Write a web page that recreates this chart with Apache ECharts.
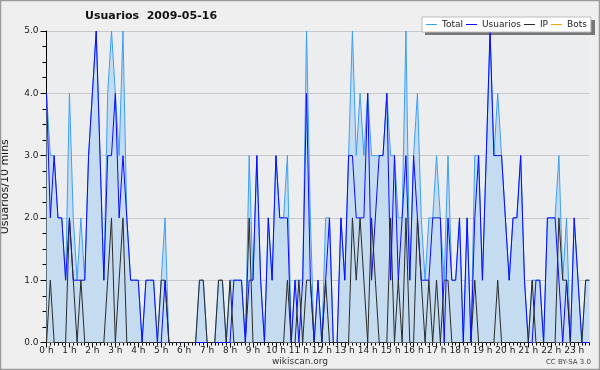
<!DOCTYPE html>
<html><head><meta charset="utf-8">
<script src="https://cdn.jsdelivr.net/npm/echarts@6/dist/echarts.min.js"></script>
<style>html,body{margin:0;padding:0;background:#efefef}#c{width:600px;height:370px}</style>
</head><body><div id="c"></div>
<script>
// 10-minute slots, 143 points starting 00:00
const slots = [];
for (let i = 0; i < 143; i++) { const h = Math.floor(i / 6), m = (i % 6) * 10; slots.push((h < 10 ? '0' : '') + h + ':' + (m < 10 ? '0' : '') + m); }
const hourLabels = ['0 h','1 h','2 h','3 h','4 h','5 h','6 h','7 h','8 h','9 h','10 h','11 h','12 h','13 h','14 h','15 h','16 h','17 h','18 h','19 h','20 h','21 h','22 h','23 h'];
const yTicks = ['0.0','1.0','2.0','3.0','4.0','5.0'];

const total = [4,3,3,2,2,1,4,2,1,2,1,3,4,5,3,1,4,5,4,3,5,2,1,1,1,0,1,1,1,0,1,2,0,0,0,0,0,0,0,0,1,1,0,0,0,1,1,0,1,1,1,1,0,3,1,3,1,0,2,1,3,2,2,3,0,1,1,1,5,2,0,1,0,2,2,0,0,2,1,3,5,3,4,3,4,3,3,3,3,4,3,3,2,2,5,1,3,4,2,1,2,2,3,2,1,3,1,1,2,0,2,0,3,3,1,3,5,3,4,3,2,1,2,2,3,1,0,1,1,1,0,2,2,2,3,1,2,0,2,1,0,1,1];
const usuarios = [4,2,3,2,2,1,2,1,1,1,1,3,4,5,3,1,3,3,4,2,3,2,1,1,1,0,1,1,1,0,0,1,0,0,0,0,0,0,0,0,0,0,0,0,0,0,0,0,0,1,1,1,0,1,1,3,1,0,2,1,3,2,2,2,0,1,0,1,4,1,0,1,0,1,2,0,0,2,1,3,3,2,2,2,4,1,2,3,3,4,1,3,1,2,3,1,3,2,1,1,1,2,2,2,0,2,1,1,2,0,2,0,2,3,1,3,5,3,3,3,2,1,2,2,3,1,0,0,1,1,0,2,2,2,1,0,1,0,2,1,0,0,0];
const ip = [0,1,0,0,0,0,2,1,0,1,0,0,0,0,0,0,1,2,0,1,2,0,0,0,0,0,0,0,0,0,1,1,0,0,0,0,0,0,0,0,1,1,0,0,0,1,1,0,1,0,0,0,0,2,0,0,0,0,0,0,0,0,0,1,0,0,1,0,1,1,0,0,0,1,0,0,0,0,0,0,2,1,2,1,0,2,1,0,0,0,2,0,1,0,2,0,0,2,1,0,1,0,1,0,1,1,0,0,0,0,0,0,1,0,0,0,0,0,1,0,0,0,0,0,0,0,0,1,0,0,0,0,0,0,2,1,1,0,0,0,0,1,1];
const bots = new Array(143).fill(0);

const chart = echarts.init(document.getElementById('c'), null, {renderer: 'canvas'});
const F = 'DejaVu Sans';
chart.setOption({
  backgroundColor: '#efefef',
  animation: false,
  title: { text: 'Usuarios  2009-05-16', left: 85, top: 10, padding: 0, textStyle: { fontFamily: F, fontSize: 11, fontWeight: 'bold', color: '#111', lineHeight: 13 } },
  legend: {
    data: ['Total', 'Usuarios', 'IP', 'Bots'], left: 422, top: 17, padding: [2, 4, 2, 4],
    icon: 'rect', itemWidth: 11, itemHeight: 1, itemGap: 3,
    backgroundColor: '#fff', borderColor: '#bbb', borderWidth: 1,
    textStyle: { fontFamily: F, fontSize: 9, color: '#222', lineHeight: 11 }
  },
  grid: { left: 46.5, right: 10.5, top: 31, bottom: 27.5, show: true, backgroundColor: '#ecedef', borderWidth: 0, containLabel: false, outerBoundsMode: 'none' },
  xAxis: [{
    type: 'category', data: slots, boundaryGap: false,
    axisLine: { lineStyle: { color: '#000', width: 1 } },
    axisTick: { interval: (i) => i % 6 === 0, length: 5, lineStyle: { color: '#000' } },
    axisLabel: { interval: (i) => i % 6 === 0, formatter: (v, i) => hourLabels[i / 6], fontFamily: F, fontSize: 9, color: '#222', margin: 4 },
    splitLine: { show: false }
  }, {
    type: 'category', data: slots, boundaryGap: false, position: 'bottom',
    axisLine: { show: false },
    axisTick: { interval: 0, length: 3, lineStyle: { color: '#000' } },
    axisLabel: { show: false }
  }],
  yAxis: {
    type: 'value', min: 0, max: 5, interval: 1,
    name: 'Usuarios/10 mins', nameLocation: 'middle', nameRotate: 90, nameGap: 36,
    nameTextStyle: { fontFamily: F, fontSize: 11, color: '#111' },
    axisLine: { show: true, lineStyle: { color: '#000' } },
    axisTick: { show: true, length: 6, lineStyle: { color: '#000' } },
    minorTick: { show: true, splitNumber: 4, length: 4, lineStyle: { color: '#000' } },
    axisLabel: { formatter: (v) => yTicks[v], fontFamily: F, fontSize: 9, color: '#222', margin: 8 },
    splitLine: { lineStyle: { color: '#c8c8c8', width: 1 } }
  },
  series: [
    { name: 'Total', type: 'line', data: total, symbol: 'none', lineStyle: { color: '#3d9ef5', width: 1 }, itemStyle: { color: '#3d9ef5' }, areaStyle: { color: '#c5dcf0', opacity: 1 }, z: 2 },
    { name: 'Usuarios', type: 'line', data: usuarios, symbol: 'none', lineStyle: { color: '#0a0aff', width: 1 }, itemStyle: { color: '#0a0aff' }, z: 3 },
    { name: 'IP', type: 'line', data: ip, symbol: 'none', lineStyle: { color: '#2a2a2a', width: 1 }, itemStyle: { color: '#2a2a2a' }, z: 4 },
    { name: 'Bots', type: 'line', data: bots, symbol: 'none', lineStyle: { color: '#ffa500', width: 1, opacity: 0 }, itemStyle: { color: '#ffa500' }, z: 1 }
  ],
  graphic: [
    { type: 'rect', shape: { x: 0.5, y: 0.5, width: 599, height: 369 }, style: { fill: 'none', stroke: '#9a9a9a', lineWidth: 1.5 }, z: 100 },
    { type: 'rect', shape: { x: 425, y: 20, width: 170, height: 15 }, style: { fill: '#777' }, z: 3, silent: true },
    { type: 'text', left: 'center', top: 357, style: { text: 'wikiscan.org', font: '9px "DejaVu Sans"', fill: '#333' } },
    { type: 'text', right: 9, top: 359, style: { text: 'CC BY-SA 3.0', font: '7px "DejaVu Sans"', fill: '#444' } }
  ]
});
</script></body></html>
